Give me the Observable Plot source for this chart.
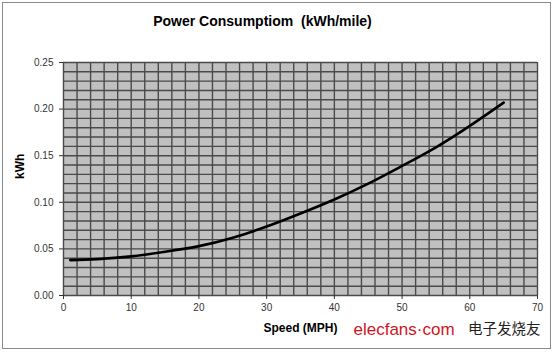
<!DOCTYPE html>
<html>
<head>
<meta charset="utf-8">
<script src="https://cdn.jsdelivr.net/npm/d3@7"></script>
<script src="https://cdn.jsdelivr.net/npm/@observablehq/plot@0.6"></script>
<style>
  html, body { margin: 0; padding: 0; background: #fff; }
  #wrap { position: relative; width: 556px; height: 355px; }
  #border { position: absolute; left: 2px; top: 2px; width: 547px; height: 345px; border: 1.5px solid #8a8a8a; pointer-events: none; }
</style>
</head>
<body>
<div id="wrap"><div id="border"></div></div>
<script>
const speed = [1, 5, 10, 15, 20, 25, 30, 35, 40, 45, 50, 55, 60, 65];
const kwh   = [0.038, 0.039, 0.042, 0.047, 0.053, 0.062, 0.074, 0.088, 0.103, 0.120, 0.139, 0.159, 0.182, 0.207];
const xTicks = [0, 10, 20, 30, 40, 50, 60, 70];
const yTicks = [0, 0.05, 0.10, 0.15, 0.20, 0.25];
const xGrid = d3.range(0, 71, 2);
const yGrid = d3.range(0, 26, 1).map(d => d / 100);
const title = "Power Consumptiom  (kWh/mile)";
const xLabel = "Speed (MPH)";
const yLabel = "kWh";
const wmRed = "elecfans·com";
const wmCn = "电子发烧友";

const data = speed.map((s, i) => ({speed: s, kwh: kwh[i]}));

const chart = Plot.plot({
  width: 556,
  height: 355,
  marginLeft: 63,
  marginRight: 19,
  marginTop: 62,
  marginBottom: 60,
  style: {fontFamily: "'Liberation Sans', Arial, sans-serif", background: "transparent"},
  x: {domain: [0, 70]},
  y: {domain: [0, 0.25]},
  marks: [
    Plot.frame({fill: "#c0c0c0", stroke: null}),
    Plot.gridX(xGrid, {stroke: "#4a4a4a", strokeOpacity: 1, strokeWidth: 1.4}),
    Plot.gridY(yGrid, {stroke: "#4a4a4a", strokeOpacity: 1, strokeWidth: 1.4}),
    Plot.line(data, {x: "speed", y: "kwh", stroke: "#000", strokeWidth: 2.6, curve: "natural"}),
    Plot.axisX(xTicks, {tickSize: 4, tickPadding: 4, fontSize: 10, color: "#333", label: null, stroke: "#333"}),
    Plot.axisY(yTicks, {tickSize: 4, tickPadding: 6, fontSize: 10, color: "#333", label: null, tickFormat: d3.format(".2f"), stroke: "#333"}),
    Plot.text([title], {frameAnchor: "top", dx: -38, dy: -41, lineAnchor: "middle", fontSize: 14, fontWeight: "bold", fill: "#000"}),
    Plot.text([xLabel], {frameAnchor: "bottom", dy: 33, lineAnchor: "middle", fontSize: 12, fontWeight: "bold", fill: "#000"}),
    Plot.text([yLabel], {frameAnchor: "left", dx: -43, rotate: -90, lineAnchor: "middle", fontSize: 12, fontWeight: "bold", fill: "#000"}),
    Plot.text([wmRed], {frameAnchor: "bottom", dx: 53, dy: 34, textAnchor: "start", lineAnchor: "middle", fontSize: 17, fill: "#d0141e", fontFamily: "'Liberation Sans', Arial, sans-serif"}),
    Plot.text([wmCn], {frameAnchor: "bottom-right", dx: 3, dy: 34, textAnchor: "end", lineAnchor: "middle", fontSize: 14.5, fill: "#222", fontFamily: "'Noto Sans CJK SC', sans-serif"})
  ]
});
document.getElementById("wrap").prepend(chart);
</script>
</body>
</html>
